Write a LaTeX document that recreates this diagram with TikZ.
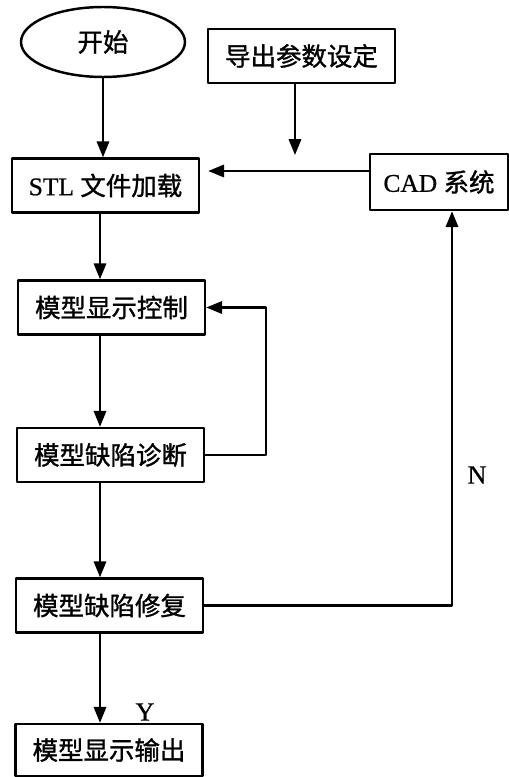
\documentclass[tikz,border=0pt]{standalone}
\usepackage{fontspec}
\setmainfont{Liberation Serif}[FakeBold=0.6]
\newfontfamily\cjk{Noto Sans CJK SC}[FakeBold=1.2]
\usetikzlibrary{shapes.geometric, arrows.meta, calc}

\begin{document}
\begin{tikzpicture}[x=0.02cm, y=-0.02cm, line join=round,
    box/.style={draw, line width=1.4pt, minimum width=3.74cm, minimum height=1.08cm,
      inner sep=0pt, font=\fontsize{14.5}{17}\selectfont},
    arr/.style={line width=1.3pt, -{Triangle[length=9pt, width=7pt]}},
    lbl/.style={font=\fontsize{15}{18}\selectfont}]
  % Page frame
  \useasboundingbox (0,0) rectangle (509,777);

  % Guide coordinates for the connectors
  \coordinate (spine) at (100,0);
  \coordinate (loop) at (266,0);
  \coordinate (rail) at (452,0);
  \coordinate (drop) at (295,155);
  \coordinate (feed) at (295,171);

  % Nodes
  \node[draw, ellipse, line width=1.4pt, minimum width=3.28cm, minimum height=1.4cm,
    inner sep=0pt, font=\fontsize{14.5}{17}\selectfont] (start) at (103,42) {\cjk 开始};
  \node[box] (param) at (301.5,56) {\cjk 导出参数设定};
  \node[box] (load) at (105.5,185.5) {STL \cjk 文件加载};
  \node[box, minimum width=2.76cm, minimum height=1.12cm] (cad) at (439,182) {CAD \cjk 系统};
  \node[box] (ctrl) at (111.5,307.5) {\cjk 模型显示控制};
  \node[box] (diag) at (110.5,455) {\cjk 模型缺陷诊断};
  \node[box] (repair) at (109.5,605.5) {\cjk 模型缺陷修复};
  \node[box, minimum height=1.04cm] (out) at (109,750) {\cjk 模型显示输出};

  % Main flow
  \draw[arr] (start.south) -- (start.south |- load.north);
  \draw[arr] (param.south -| drop) -- (drop);
  \draw[arr, shorten >=0.16cm] (cad.west |- feed) -- (load.east |- feed);
  \draw[arr] (load.south -| spine) -- (ctrl.north -| spine);
  \draw[arr] (ctrl.south -| spine) -- (diag.north -| spine);
  \draw[arr] (diag.south -| spine) -- (repair.north -| spine);
  \draw[arr] (repair.south -| spine) -- (out.north -| spine);

  % Loops back
  \draw[arr] (diag.east) -- (diag.east -| loop) |- (ctrl.east);
  \draw[arr] (repair.east) -| (rail |- cad.south);

  % Branch labels
  \node[lbl] (no) at (477,475) {N};
  \node[lbl] (yes) at (145,712) {Y};
\end{tikzpicture}
\end{document}
